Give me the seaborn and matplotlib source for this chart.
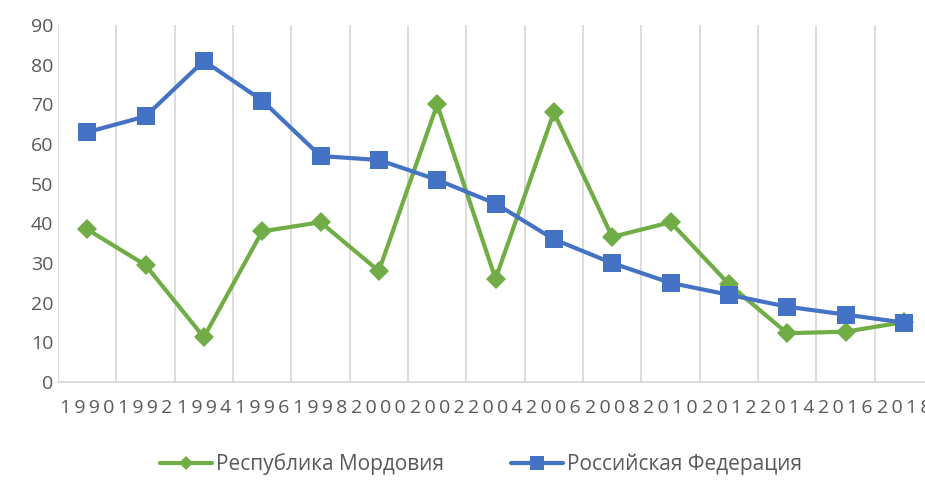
import matplotlib.pyplot as plt
import numpy as np
import pandas as pd
import seaborn as sns

years = ['1990', '1992', '1994', '1996', '1998', '2000', '2002', '2004',
         '2006', '2008', '2010', '2012', '2014', '2016', '2018']
mordovia = [38.5, 29.5, 11.3, 38, 40.3, 28, 70, 26, 68, 36.6, 40.3, 24.7, 12.3, 12.7, 15.1]
russia = [63, 67, 81, 71, 57, 56, 51, 45, 36, 30, 25, 22, 19, 17, 15]
names = ['Республика Мордовия', 'Российская Федерация']

sns.set_style('white')
plt.rcParams['font.family'] = ['Open Sans', 'DejaVu Sans']

df = pd.DataFrame({'pos': np.arange(len(years)), 'year': years,
                   names[0]: mordovia, names[1]: russia})

fig = plt.figure(figsize=(9.25, 4.84), dpi=100)
ax = fig.add_axes([0.0627, 0.2107, 0.946, 0.7373])

sns.lineplot(data=df, x='pos', y=names[0], ax=ax, color='#70AD47', linewidth=3,
             marker='D', markersize=10, markeredgewidth=0, label=names[0])
sns.lineplot(data=df, x='pos', y=names[1], ax=ax, color='#4472C4', linewidth=3,
             marker='s', markersize=13, markeredgewidth=0, label=names[1])

ax.set_xlim(-0.5, len(years) - 0.5)
ax.set_ylim(0, 90)
ax.set_yticks(range(0, 91, 10))
ax.set_xticks(df['pos'])
ax.set_xticklabels(['\u2009'.join(y) for y in years])
ax.set_xticks(np.arange(-0.5, len(years), 1), minor=True)
ax.grid(False)
ax.grid(True, axis='x', which='minor', color='#D9D9D9', linewidth=1.3)
ax.tick_params(axis='both', which='both', length=0, labelsize=14, colors='#595959')
ax.tick_params(axis='x', pad=12)
ax.set_xlabel('')
ax.set_ylabel('')
for s in ['top', 'right', 'left']:
    ax.spines[s].set_visible(False)
ax.spines['bottom'].set_color('#D9D9D9')
ax.spines['bottom'].set_linewidth(1.3)

ax.get_legend().remove()
handles, labels = ax.get_legend_handles_labels()
fig.legend(handles, labels, loc='lower center', bbox_to_anchor=(0.52, -0.02), ncol=2,
           frameon=False, fontsize=15, columnspacing=3.2, handlelength=2.5,
           handletextpad=0.2, labelcolor='#595959', markerscale=0.75)

fig.savefig('out.png', dpi=100)
